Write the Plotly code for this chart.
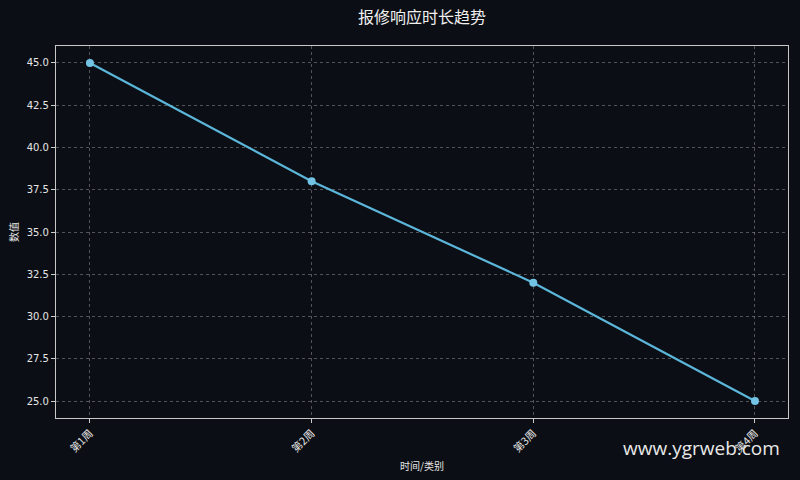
import plotly.graph_objects as go

# data
weeks = ["第1周", "第2周", "第3周", "第4周"]
response_hours = [45.0, 38.0, 32.0, 25.0]
y_ticks = [25.0, 27.5, 30.0, 32.5, 35.0, 37.5, 40.0, 42.5, 45.0]

bg = "#0b0e14"
grid = "rgba(190,190,190,0.4)"

fig = go.Figure()
fig.add_trace(go.Scatter(
    x=weeks, y=response_hours,
    mode="lines+markers",
    line=dict(color="#5bb6da", width=2.2),
    marker=dict(color="#72c3e4", size=8),
    showlegend=False,
))

fig.update_layout(
    width=800, height=480,
    paper_bgcolor=bg, plot_bgcolor=bg,
    margin=dict(l=56, r=12, t=46, b=62),
    font=dict(family="Noto Sans CJK SC, DejaVu Sans", color="#e6e6e6", size=10),
    title=dict(text="报修响应时长趋势", xref="paper", x=0.5, xanchor="center",
               y=0.963, yanchor="middle",
               font=dict(size=16, color="#f0f0f0")),
)

fig.update_xaxes(
    type="category", range=[-0.153, 3.149], automargin=False,
    tickangle=-45, ticks="outside", ticklen=4, tickcolor="#cccccc",
    showgrid=True, gridcolor=grid, griddash="3px,3px", gridwidth=0.7,
    showline=True, linecolor="#c8c8c8", linewidth=1.2, mirror=True,
    title=dict(text="时间/类别", font=dict(size=10), standoff=8),
    tickfont=dict(size=10.5),
    zeroline=False,
)
fig.update_yaxes(
    range=[24.0, 46.0], tickvals=y_ticks, automargin=False,
    ticktext=[f"{v:.1f}" for v in y_ticks],
    ticks="outside", ticklen=4, tickcolor="#cccccc",
    showgrid=True, gridcolor=grid, griddash="3px,3px", gridwidth=0.7,
    showline=True, linecolor="#c8c8c8", linewidth=1.2, mirror=True,
    title=dict(text="数值", font=dict(size=10), standoff=6),
    tickfont=dict(size=10, family="DejaVu Sans"),
    zeroline=False,
)

fig.add_annotation(
    text="www.ygrweb.com", xref="paper", yref="paper",
    x=0.992, y=-0.081, xanchor="right", yanchor="middle",
    showarrow=False, font=dict(size=19, color="#e8e8e8", family="Open Sans, DejaVu Sans"),
)

fig.write_html("out.html", config={"displayModeBar": False},
               post_script="document.body.style.margin='0';")
